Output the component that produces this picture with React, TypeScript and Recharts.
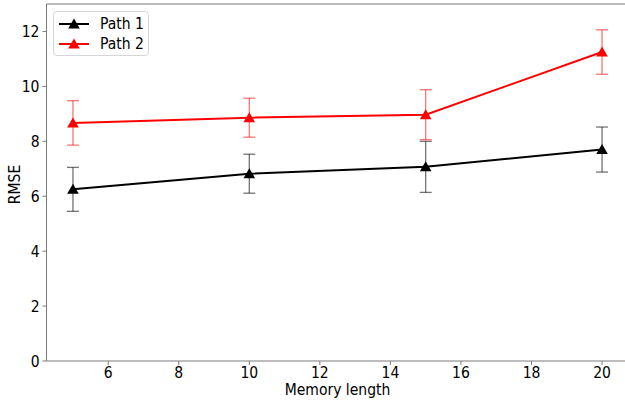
import { ErrorBar, Line, LineChart, ReferenceLine, XAxis, YAxis } from "recharts"

const memoryLengths = [5, 10, 15, 20]
const path1Rmse = [6.25, 6.82, 7.07, 7.7]
const path1Err = [0.8, 0.71, 0.93, 0.82]
const path2Rmse = [8.67, 8.86, 8.97, 11.25]
const path2Err = [0.81, 0.71, 0.91, 0.81]
const xTicks = [6, 8, 10, 12, 14, 16, 18, 20]
const yTicks = [0, 2, 4, 6, 8, 10, 12]

const SERIES = [
  { key: "path1", errKey: "path1Err", name: "Path 1", color: "#000000", errColor: "rgba(0,0,0,0.55)" },
  { key: "path2", errKey: "path2Err", name: "Path 2", color: "#ff0000", errColor: "rgba(255,0,0,0.55)" },
]

const data = memoryLengths.map((m, i) => ({
  m,
  path1: path1Rmse[i],
  path1Err: path1Err[i],
  path2: path2Rmse[i],
  path2Err: path2Err[i],
}))

const FONT = "'DejaVu Sans Condensed', 'DejaVu Sans', sans-serif"
const FS = 15.5
const SPINE = "#7a7a7a"

function Triangle({ cx, cy, fill }: { cx?: number; cy?: number; fill: string }) {
  if (cx === undefined || cy === undefined) return null
  return <path d={`M${cx},${cy - 5.5} L${cx + 5.8},${cy + 4.5} L${cx - 5.8},${cy + 4.5} Z`} fill={fill} />
}

// legend drawn as a plain overlay so it doesn't push the plot area down
function LegendBox() {
  return (
    <div
      style={{
        position: "absolute",
        left: 53,
        top: 11,
        width: 96,
        height: 45,
        boxSizing: "border-box",
        border: "1px solid #d6d6d6",
        borderRadius: 4,
        background: "rgba(255,255,255,0.8)",
        padding: "2px 0 0 4px",
        fontFamily: FONT,
        fontSize: FS,
        lineHeight: "20px",
      }}
    >
      {SERIES.map((s) => (
        <div key={s.key} style={{ display: "flex", alignItems: "center", height: 20 }}>
          <svg width={32} height={14} style={{ marginRight: 10 }}>
            <line x1={1} y1={7} x2={31} y2={7} stroke={s.color} strokeWidth={2} />
            <Triangle cx={16} cy={7} fill={s.color} />
          </svg>
          <span style={{ color: "#000" }}>{s.name}</span>
        </div>
      ))}
    </div>
  )
}

function YLabel(props: { viewBox?: { x: number; y: number; width: number; height: number } }) {
  const vb = props.viewBox
  if (!vb) return null
  const x = vb.x + 8
  const y = vb.y + vb.height / 2 + 2
  return (
    <text x={x} y={y} transform={`rotate(-90, ${x}, ${y})`} textAnchor="middle" dominantBaseline="central" fontSize={FS} fontFamily={FONT} fill="#000">
      RMSE
    </text>
  )
}

export default function App() {
  return (
    <div style={{ position: "fixed", left: 0, top: 0, width: 625, height: 401, overflow: "hidden", background: "#fff" }}>
      <LineChart width={640} height={401} data={data} margin={{ top: 4, right: 11.5, bottom: 0, left: 6.5 }}>
        <XAxis
          dataKey="m"
          type="number"
          domain={[4.25, 20.75]}
          ticks={xTicks}
          allowDataOverflow
          height={40}
          tickSize={4}
          tickMargin={2}
          stroke={SPINE}
          tick={{ fill: "#000", fontSize: FS, fontFamily: FONT }}
          label={{ value: "Memory length", position: "insideBottom", offset: 6, fill: "#000", fontSize: FS, fontFamily: FONT }}
        />
        <YAxis
          type="number"
          domain={[0, 13]}
          ticks={yTicks}
          allowDataOverflow
          width={40}
          tickSize={4}
          tickMargin={3}
          stroke={SPINE}
          tick={{ fill: "#000", fontSize: FS, fontFamily: FONT }}
          label={<YLabel />}
        />
        <ReferenceLine y={13} stroke={SPINE} />
        <ReferenceLine x={20.75} stroke={SPINE} />
        {SERIES.map((s) => (
          <Line
            key={s.key}
            type="linear"
            dataKey={s.key}
            name={s.name}
            stroke={s.color}
            strokeWidth={2}
            dot={(p: { cx?: number; cy?: number; index?: number }) => <Triangle key={`${s.key}-${p.index}`} cx={p.cx} cy={p.cy} fill={s.color} />}
            activeDot={false}
            isAnimationActive={false}
          >
            <ErrorBar dataKey={s.errKey} direction="y" width={6} stroke={s.errColor} strokeWidth={1.3} isAnimationActive={false} />
          </Line>
        ))}
      </LineChart>
      <LegendBox />
    </div>
  )
}
